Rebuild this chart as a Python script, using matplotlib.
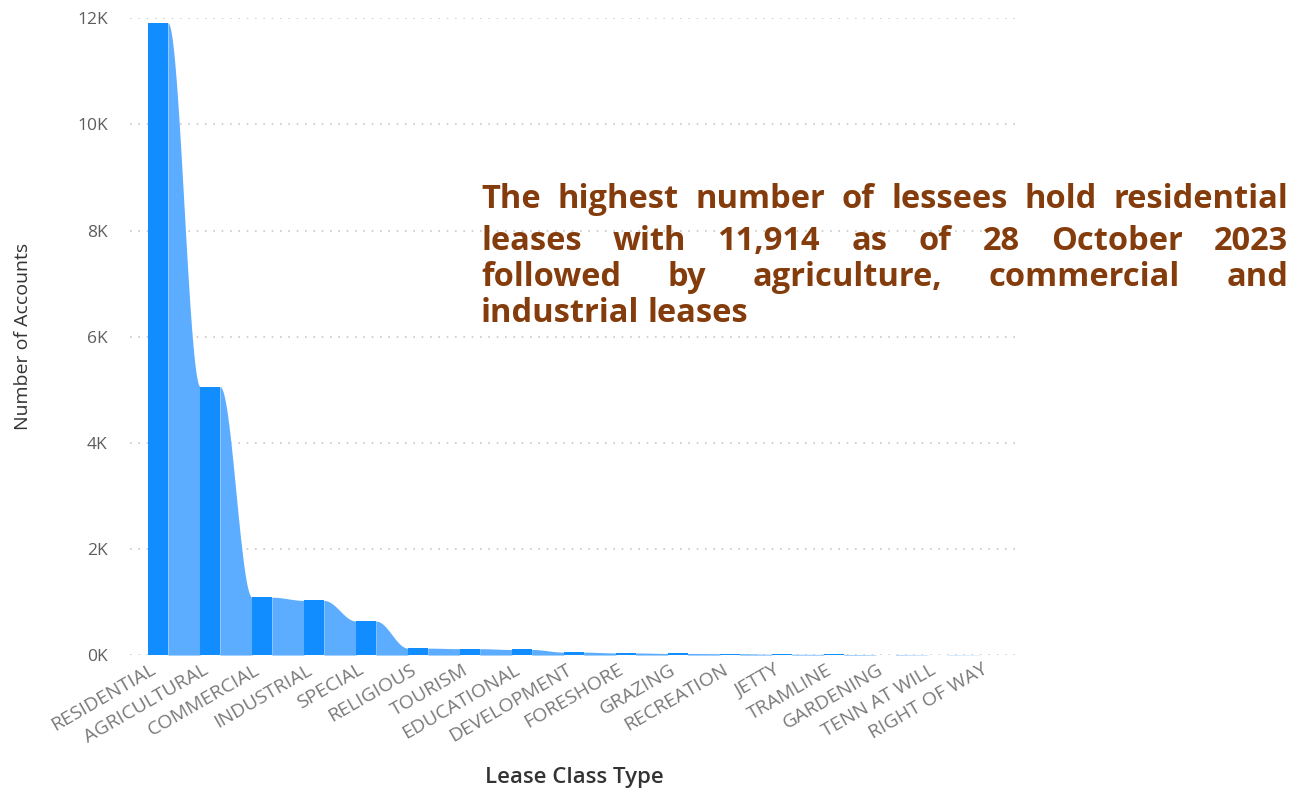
import numpy as np
import matplotlib.pyplot as plt
import matplotlib.transforms as mtrans
from matplotlib.ticker import FuncFormatter

# lease class counts
categories = ['RESIDENTIAL', 'AGRICULTURAL', 'COMMERCIAL', 'INDUSTRIAL', 'SPECIAL',
              'RELIGIOUS', 'TOURISM', 'EDUCATIONAL', 'DEVELOPMENT', 'FORESHORE',
              'GRAZING', 'RECREATION', 'JETTY', 'TRAMLINE', 'GARDENING',
              'TENN AT WILL', 'RIGHT OF WAY']
accounts = [11914, 5060, 1090, 1030, 640, 130, 120, 105, 55, 40,
            30, 25, 15, 12, 8, 5, 3]

note_lines = ['The highest number of lessees hold residential',
              'leases with 11,914 as of 28 October 2023',
              'followed by agriculture, commercial and',
              'industrial leases']

bar_col = '#118DFF'
ribbon_col = '#5CADFF'
note_col = '#843C0C'
bw = 0.38

fig = plt.figure(figsize=(12.99, 7.94), dpi=100)
ax = fig.add_axes([0.1, 0.175, 0.685, 0.802])

x = np.arange(len(categories))
ax.bar(x, accounts, width=bw, color=bar_col, zorder=3)

# ribbons between neighbouring bars
for i in range(len(accounts) - 1):
    x0 = x[i] + bw / 2
    x1 = x[i + 1] - bw / 2
    t = np.linspace(0, 1, 60)
    s = 0.5 - 0.5 * np.cos(np.pi * t)
    y = accounts[i] + (accounts[i + 1] - accounts[i]) * s
    ax.fill_between(x0 + (x1 - x0) * t, 0, y, color=ribbon_col, lw=0, zorder=2)

ax.set_xlim(-0.54, 16.58)
ax.set_ylim(0, 12000)
ax.set_yticks(np.arange(0, 12001, 2000))
ax.yaxis.set_major_formatter(FuncFormatter(lambda v, p: f'{int(v/1000)}K'))
ax.grid(axis='y', color='#C8C8C8', linestyle=(0, (1, 4)), linewidth=1.2, zorder=0)
for sp in ax.spines.values():
    sp.set_visible(False)
ax.tick_params(length=0)
ax.tick_params(axis='y', labelsize=12.5, labelcolor='#605E5C', pad=16)
ax.set_xticks(x)
ax.set_xticklabels(categories, rotation=30, ha='right', rotation_mode='anchor',
                   fontsize=14, color='#7A7A7A')
ax.tick_params(axis='x', pad=4)
shift = mtrans.ScaledTranslation(-8 / 100, 0, fig.dpi_scale_trans)
for lab in ax.get_xticklabels():
    lab.set_transform(lab.get_transform() + shift)
for lab in ax.get_xticklabels() + ax.get_yticklabels():
    lab.set_family('Open Sans')

ax.set_ylabel('Number of Accounts', fontsize=14, color='#333333', family='Open Sans')
ax.yaxis.set_label_coords(-0.11, 0.5)
ax.set_xlabel('Lease Class Type', fontsize=16, color='#333333', family='Open Sans',
              fontweight='semibold', va='center')
ax.xaxis.set_label_coords(0.5, -0.193)

# justified annotation block
fig.canvas.draw()
r = fig.canvas.get_renderer()
W, H = fig.bbox.width, fig.bbox.height
left, right = 481, 1288
baselines = [208, 250, 286, 322]
probe = fig.text(0, 0, note_lines[0], fontsize=20, fontweight='bold', family='Open Sans')
fs = 20 * (right - left) / probe.get_window_extent(r).width * 0.94
probe.remove()
for j, line in enumerate(note_lines):
    words = line.split()
    txts = [fig.text(0, 0, w, fontsize=fs, fontweight='bold', family='Open Sans',
                     color=note_col, va='baseline') for w in words]
    widths = [t.get_window_extent(r).width for t in txts]
    if j < len(note_lines) - 1:
        gap = (right - left - sum(widths)) / (len(words) - 1)
    else:
        gap = fs * 0.35
    xp = left
    for t, w in zip(txts, widths):
        t.set_position((xp / W, 1 - baselines[j] / H))
        xp += w + gap

fig.savefig('out.png', dpi=100)
